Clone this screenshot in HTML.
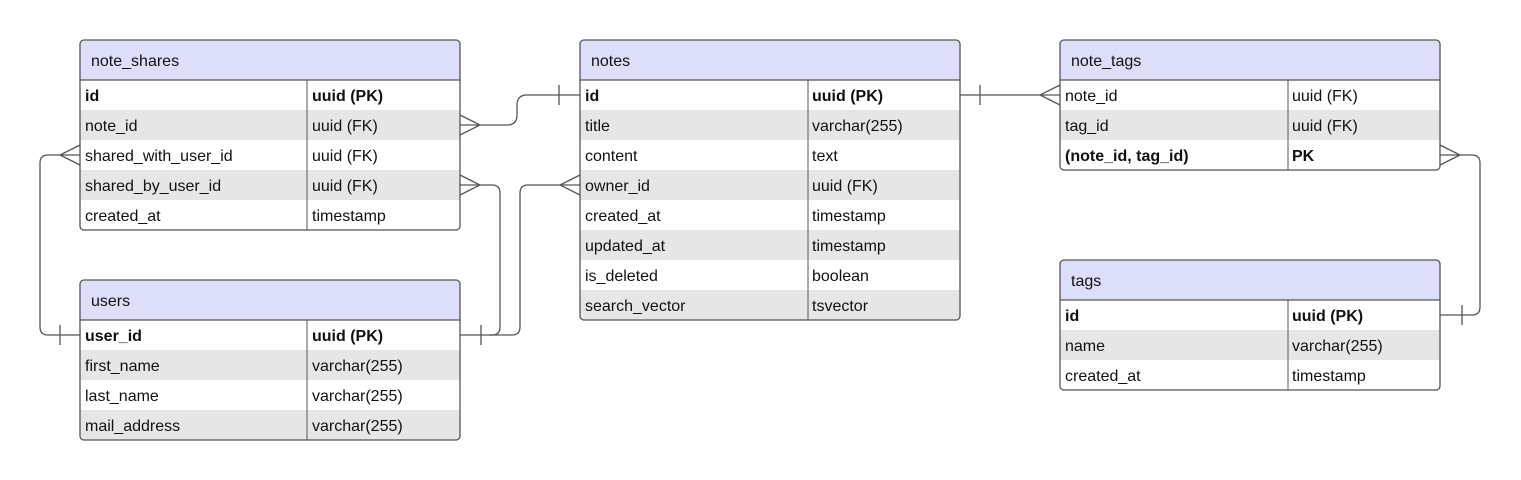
<!DOCTYPE html>
<html><head><meta charset="utf-8"><style>
html,body{margin:0;padding:0;background:#fff;}
svg{display:block;}
text{font-family:"Liberation Sans",sans-serif;font-size:16px;fill:#111;}
.b{font-weight:bold;}
</style></head><body>
<svg width="1521" height="480" viewBox="0 0 1521 480" xmlns="http://www.w3.org/2000/svg">
<g fill="none" stroke="#555" stroke-width="1.3">
<!-- note_shares.note_id -> notes.id -->
<path d="M460,115 L480,125 L460,135 M460,125 L507,125 Q517,125 517,115 L517,105 Q517,95 527,95 L580,95 M559,85 L559,105"/>
<!-- shared_with -> users.user_id -->
<path d="M80,145 L60,155 L80,165 M80,155 L48,155 Q40,155 40,163 L40,327 Q40,335 48,335 L80,335 M60,325 L60,345"/>
<!-- shared_by -> users.user_id -->
<path d="M460,175 L480,185 L460,195 M460,185 L492,185 Q500,185 500,193 L500,327 Q500,335 492,335 L460,335 M481,325 L481,345"/>
<!-- notes.owner_id -> users -->
<path d="M580,175 L560,185 L580,195 M580,185 L528,185 Q520,185 520,193 L520,327 Q520,335 512,335 L490,335"/>
<!-- notes.id -> note_tags.note_id -->
<path d="M960,95 L1060,95 M980,85 L980,105 M1060,85 L1040,95 L1060,105"/>
<!-- note_tags PK -> tags.id -->
<path d="M1440,145 L1460,155 L1440,165 M1440,155 L1472,155 Q1480,155 1480,163 L1480,307 Q1480,315 1472,315 L1440,315 M1462,305 L1462,325"/>
</g>

<!-- note_shares -->
<g>
<rect x="80" y="40" width="380" height="190" rx="4" fill="#fff"/>
<rect x="80" y="110" width="380" height="30" fill="#e6e6e6"/>
<rect x="80" y="170" width="380" height="30" fill="#e6e6e6"/>
<path d="M80,80 V44 Q80,40 84,40 H456 Q460,40 460,44 V80 Z" fill="#dddffa"/>
<rect x="80" y="40" width="380" height="190" rx="4" fill="none" stroke="#555" stroke-width="1.3"/>
<line x1="80" y1="80" x2="460" y2="80" stroke="#555" stroke-width="1.3"/>
<line x1="307" y1="80" x2="307" y2="230" stroke="#555" stroke-width="1"/>
<text x="91" y="66">note_shares</text>
<text x="85" y="101" class="b">id</text><text x="312" y="101" class="b">uuid (PK)</text>
<text x="85" y="131">note_id</text><text x="312" y="131">uuid (FK)</text>
<text x="85" y="161">shared_with_user_id</text><text x="312" y="161">uuid (FK)</text>
<text x="85" y="191">shared_by_user_id</text><text x="312" y="191">uuid (FK)</text>
<text x="85" y="221">created_at</text><text x="312" y="221">timestamp</text>
</g>

<!-- users -->
<g>
<rect x="80" y="280" width="380" height="160" rx="4" fill="#fff"/>
<rect x="80" y="350" width="380" height="30" fill="#e6e6e6"/>
<path d="M80,410 H460 V436 Q460,440 456,440 H84 Q80,440 80,436 Z" fill="#e6e6e6"/>
<path d="M80,320 V284 Q80,280 84,280 H456 Q460,280 460,284 V320 Z" fill="#dddffa"/>
<rect x="80" y="280" width="380" height="160" rx="4" fill="none" stroke="#555" stroke-width="1.3"/>
<line x1="80" y1="320" x2="460" y2="320" stroke="#555" stroke-width="1.3"/>
<line x1="307" y1="320" x2="307" y2="440" stroke="#555" stroke-width="1"/>
<text x="91" y="306">users</text>
<text x="85" y="341" class="b">user_id</text><text x="312" y="341" class="b">uuid (PK)</text>
<text x="85" y="371">first_name</text><text x="312" y="371">varchar(255)</text>
<text x="85" y="401">last_name</text><text x="312" y="401">varchar(255)</text>
<text x="85" y="431">mail_address</text><text x="312" y="431">varchar(255)</text>
</g>

<!-- notes -->
<g>
<rect x="580" y="40" width="380" height="280" rx="4" fill="#fff"/>
<rect x="580" y="110" width="380" height="30" fill="#e6e6e6"/>
<rect x="580" y="170" width="380" height="30" fill="#e6e6e6"/>
<rect x="580" y="230" width="380" height="30" fill="#e6e6e6"/>
<path d="M580,290 H960 V316 Q960,320 956,320 H584 Q580,320 580,316 Z" fill="#e6e6e6"/>
<path d="M580,80 V44 Q580,40 584,40 H956 Q960,40 960,44 V80 Z" fill="#dddffa"/>
<rect x="580" y="40" width="380" height="280" rx="4" fill="none" stroke="#555" stroke-width="1.3"/>
<line x1="580" y1="80" x2="960" y2="80" stroke="#555" stroke-width="1.3"/>
<line x1="808" y1="80" x2="808" y2="320" stroke="#555" stroke-width="1"/>
<text x="591" y="66">notes</text>
<text x="585" y="101" class="b">id</text><text x="812" y="101" class="b">uuid (PK)</text>
<text x="585" y="131">title</text><text x="812" y="131">varchar(255)</text>
<text x="585" y="161">content</text><text x="812" y="161">text</text>
<text x="585" y="191">owner_id</text><text x="812" y="191">uuid (FK)</text>
<text x="585" y="221">created_at</text><text x="812" y="221">timestamp</text>
<text x="585" y="251">updated_at</text><text x="812" y="251">timestamp</text>
<text x="585" y="281">is_deleted</text><text x="812" y="281">boolean</text>
<text x="585" y="311">search_vector</text><text x="812" y="311">tsvector</text>
</g>

<!-- note_tags -->
<g>
<rect x="1060" y="40" width="380" height="130" rx="4" fill="#fff"/>
<rect x="1060" y="110" width="380" height="30" fill="#e6e6e6"/>
<path d="M1060,80 V44 Q1060,40 1064,40 H1436 Q1440,40 1440,44 V80 Z" fill="#dddffa"/>
<rect x="1060" y="40" width="380" height="130" rx="4" fill="none" stroke="#555" stroke-width="1.3"/>
<line x1="1060" y1="80" x2="1440" y2="80" stroke="#555" stroke-width="1.3"/>
<line x1="1288" y1="80" x2="1288" y2="170" stroke="#555" stroke-width="1"/>
<text x="1071" y="66">note_tags</text>
<text x="1065" y="101">note_id</text><text x="1292" y="101">uuid (FK)</text>
<text x="1065" y="131">tag_id</text><text x="1292" y="131">uuid (FK)</text>
<text x="1065" y="161" class="b">(note_id, tag_id)</text><text x="1292" y="161" class="b">PK</text>
</g>

<!-- tags -->
<g>
<rect x="1060" y="260" width="380" height="130" rx="4" fill="#fff"/>
<rect x="1060" y="330" width="380" height="30" fill="#e6e6e6"/>
<path d="M1060,300 V264 Q1060,260 1064,260 H1436 Q1440,260 1440,264 V300 Z" fill="#dddffa"/>
<rect x="1060" y="260" width="380" height="130" rx="4" fill="none" stroke="#555" stroke-width="1.3"/>
<line x1="1060" y1="300" x2="1440" y2="300" stroke="#555" stroke-width="1.3"/>
<line x1="1288" y1="300" x2="1288" y2="390" stroke="#555" stroke-width="1"/>
<text x="1071" y="286">tags</text>
<text x="1065" y="321" class="b">id</text><text x="1292" y="321" class="b">uuid (PK)</text>
<text x="1065" y="351">name</text><text x="1292" y="351">varchar(255)</text>
<text x="1065" y="381">created_at</text><text x="1292" y="381">timestamp</text>
</g>
</svg>
</body></html>
